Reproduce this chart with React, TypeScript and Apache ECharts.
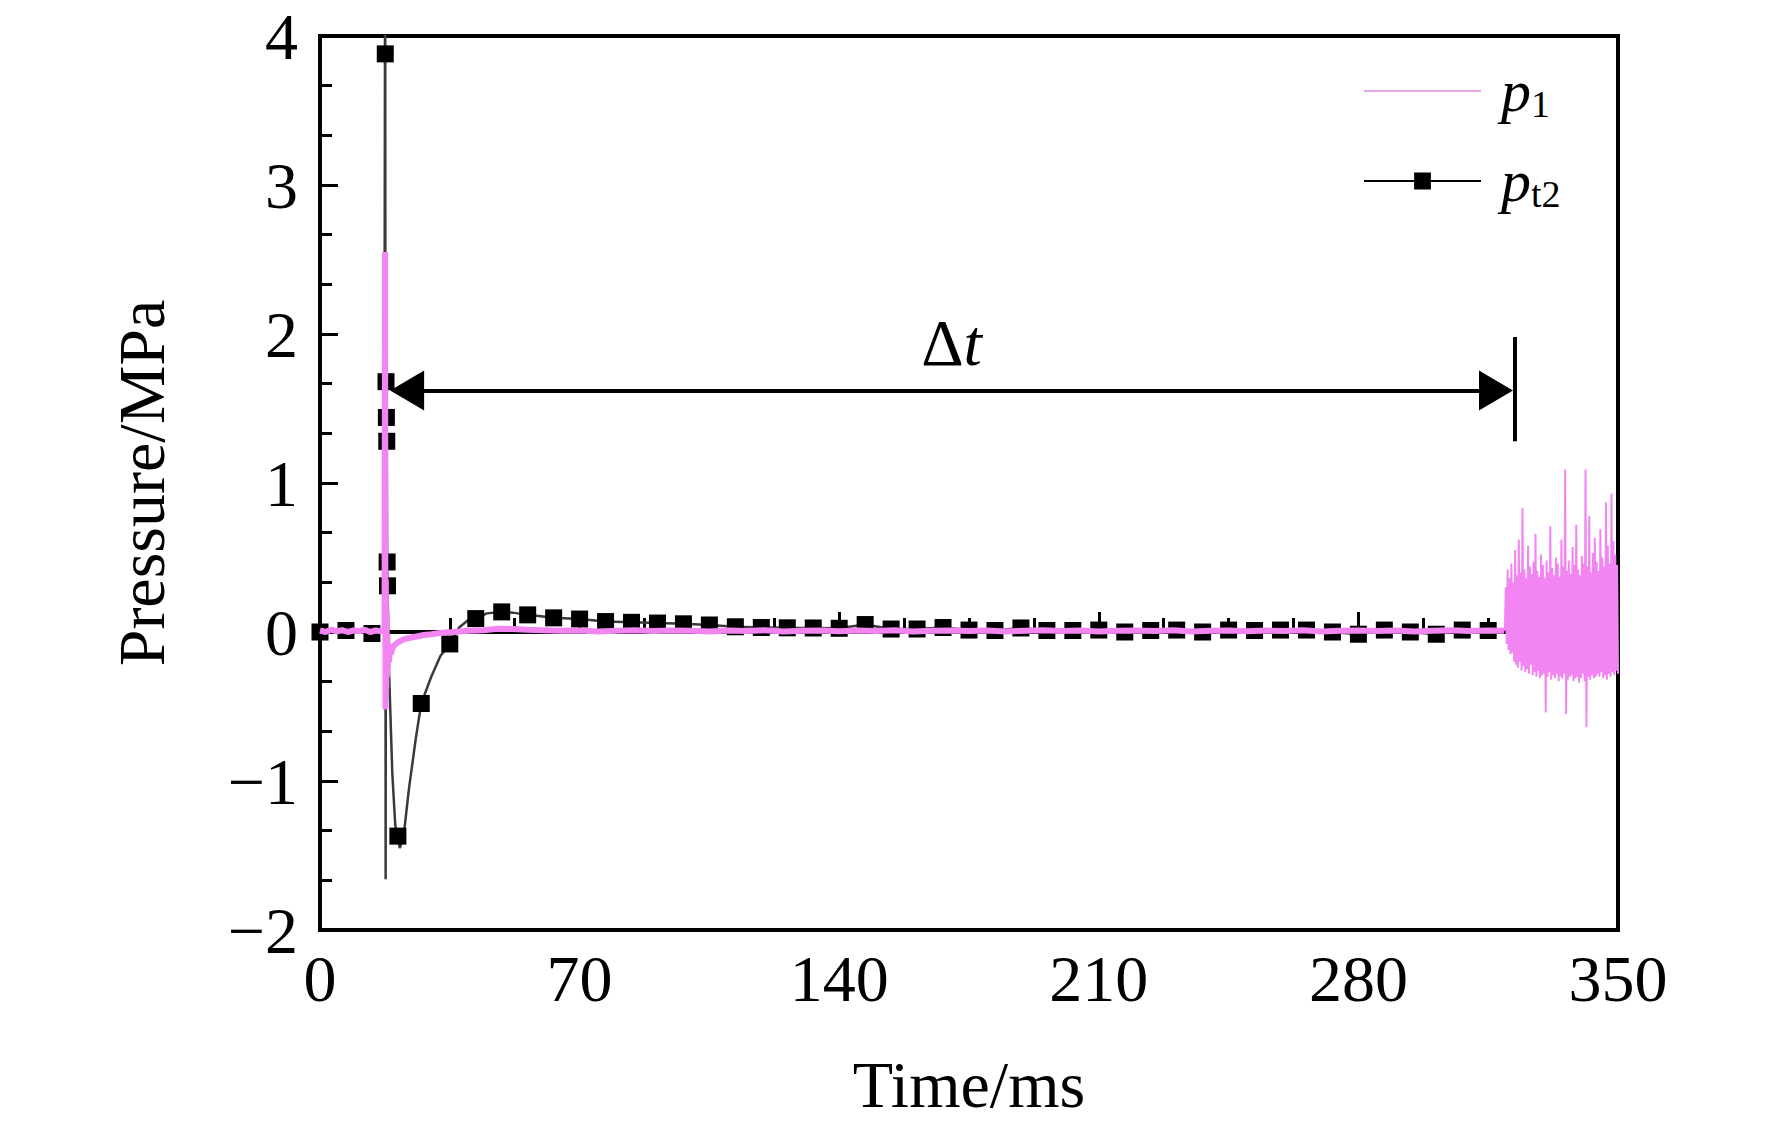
import { useEffect, useRef } from 'react';
import * as echarts from 'echarts';

const FONT = '"Liberation Serif", "Times New Roman", serif';
const PINK = '#f285f2';

// axis ranges
const timeMin = 0;
const timeMax = 350;
const timeStep = 70;
const pressureMin = -2;
const pressureMax = 4;
const pressureStep = 1;

// p_t2: sampled points, 1 = drawn with a square marker
const pt2Time = [
  0, 7, 14, 17.3, 17.55, 17.6, 17.7, 17.8, 17.9, 18.0, 18.1, 18.2, 18.6, 19.5, 20.3, 21.0, 21.5, 22.5, 24.0, 25.8,
  27.3, 30.0, 32.5, 35.0, 37.5, 40.0, 42.0, 45.0, 49.0, 52.0, 56.0, 63, 70, 77, 84, 91, 98, 105, 112, 119,
  126, 133, 140, 147, 154, 161, 168, 175, 182, 189, 196, 203, 210, 217, 224, 231, 238, 245, 252, 259,
  266, 273, 280, 287, 294, 301, 308, 315, 319.5,
];
const pt2Value = [
  0.0, 0.01, -0.01, 0.0, 4.5, 3.88, -1.66, 1.68, 1.44, 1.28, 0.47, 0.31, -0.25, -0.95, -1.3, -1.37, -1.45, -1.38, -1.05, -0.72,
  -0.48, -0.3, -0.16, -0.08, 0.03, 0.08, 0.09, 0.125, 0.135, 0.13, 0.115, 0.095, 0.087, 0.07, 0.065, 0.06, 0.055, 0.047, 0.035, 0.03,
  0.028, 0.027, 0.025, 0.05, 0.02, 0.02, 0.03, 0.013, 0.01, 0.027, 0.01, 0.01, 0.013, 0.0, 0.01, 0.013, 0.0, 0.013, 0.01, 0.013,
  0.013, 0.0, -0.015, 0.013, 0.0, -0.015, 0.013, 0.01, 0.01,
];
const pt2Marked = [
  1, 1, 1, 0, 0, 1, 0, 1, 1, 1, 1, 1, 0, 0, 0, 1, 0, 0, 0, 0,
  1, 0, 0, 1, 0, 0, 1, 0, 1, 0, 1, 1, 1, 1, 1, 1, 1, 1, 1, 1,
  1, 1, 1, 1, 1, 1, 1, 1, 1, 1, 1, 1, 1, 1, 1, 1, 1, 1, 1, 1,
  1, 1, 1, 1, 1, 1, 1, 1, 0,
];

// p_1 before the burst
const p1Time = [
  0, 1.5, 3, 4.5, 6, 7.5, 9, 10.5, 12, 13.5, 15, 16.5, 17.4, 17.55, 17.65, 17.75, 17.85, 17.95, 18.05, 18.15,
  18.3, 18.45, 18.6, 18.8, 19.1, 19.5, 20, 21, 22.5, 24, 26, 28, 30, 33, 36, 40, 44, 48, 52, 56,
  60, 65, 70, 75, 80, 85, 90, 95, 100, 105, 110, 115, 120, 125, 130, 135, 140, 145, 150, 155,
  160, 165, 170, 175, 180, 185, 190, 195, 200, 205, 210, 215, 220, 225, 230, 235, 240, 245, 250, 255,
  260, 265, 270, 275, 280, 285, 290, 295, 300, 305, 310, 315, 319.25,
];
const p1Value = [
  0.01, 0.0, 0.015, 0.005, 0.012, 0.0, 0.01, 0.005, 0.015, 0.0, 0.01, 0.005, 0.02, 2.55, -0.52, 0.35, -0.38, 0.12, -0.3, -0.02,
  -0.24, -0.08, -0.2, -0.13, -0.15, -0.11, -0.09, -0.07, -0.05, -0.04, -0.03, -0.02, -0.015, -0.005, 0.0, 0.008, 0.012, 0.022, 0.02, 0.015,
  0.012, 0.008, 0.01, 0.004, 0.008, 0.012, 0.006, 0.01, 0.008, 0.004, 0.01, 0.006, 0.012, 0.004, 0.008, 0.01, 0.005, 0.01, 0.006, 0.012,
  0.004, 0.008, 0.01, 0.006, 0.01, 0.004, 0.008, 0.012, 0.006, 0.01, 0.004, 0.008, 0.01, 0.006, 0.012, 0.004, 0.008, 0.01, 0.005, 0.01,
  0.006, 0.012, 0.004, 0.008, 0.01, 0.006, 0.01, 0.004, 0.008, 0.012, 0.006, 0.01, 0.008,
];

// p_1 burst, sampled every 0.25 ms from 319.5 ms
const p1NoiseStart = 319.5;
const p1NoiseStep = 0.25;
const p1NoiseValues = [
  0.02,
  0.30, -0.08, 0.42, -0.12, 0.36, -0.15, 0.46, -0.14, 0.33, -0.20,
  0.55, -0.22, 0.38, -0.24, 0.62, -0.20, 0.40, -0.26, 0.83, -0.23,
  0.42, -0.27, 0.36, -0.25, 0.58, -0.28, 0.44, -0.22, 0.39, -0.29,
  0.47, -0.27, 0.66, -0.30, 0.41, -0.26, 0.37, -0.31, 0.52, -0.29,
  0.45, -0.28, 0.36, -0.54, 0.48, -0.30, 0.40, -0.27, 0.71, -0.32,
  0.43, -0.29, 0.38, -0.31, 0.50, -0.28, 0.46, -0.33, 0.37, -0.30,
  0.62, -0.31, 0.44, -0.28, 1.09, -0.55, 0.41, -0.32, 0.48, -0.30,
  0.39, -0.29, 0.57, -0.33, 0.45, -0.31, 0.72, -0.30, 0.42, -0.34,
  0.38, -0.31, 0.51, -0.28, 0.46, -0.33, 1.09, -0.64, 0.44, -0.30,
  0.78, -0.32, 0.40, -0.29, 0.53, -0.31, 0.63, -0.30, 0.47, -0.28,
  0.41, -0.30, 0.69, -0.27, 0.50, -0.31, 0.44, -0.29, 0.87, -0.32,
  0.58, -0.28, 0.46, -0.30, 0.93, -0.27, 0.61, -0.29, 0.52, -0.26,
  0.45, -0.28,
];

// Δt annotation (ms / MPa)
const arrowLevel = 1.62;
const arrowFrom = 23.5;
const arrowTo = 317.1;
const barTime = 322.2;
const barTop = 1.98;
const barBottom = 1.28;

const minus = (v: number) => (v < 0 ? '\u2212' + Math.abs(v) : String(v));

export default function App() {
  const chartRef = useRef<HTMLDivElement>(null);

  useEffect(() => {
    document.body.style.margin = '0';
    if (!chartRef.current) return;
    const chart = echarts.init(chartRef.current, null, { renderer: 'svg' });

    const pt2Data = pt2Time.map((t, i) =>
      pt2Marked[i] ? [t, pt2Value[i]] : { value: [t, pt2Value[i]], symbol: 'none' }
    );
    const p1Data = p1Time.map((t, i) => [t, p1Value[i]]);
    const p1NoiseData = [
      [p1Time[p1Time.length - 1], p1Value[p1Value.length - 1]],
      ...p1NoiseValues.map((v, i) => [p1NoiseStart + i * p1NoiseStep, v]),
    ];

    const axisText = { fontFamily: FONT, fontSize: 66, color: '#000' };

    chart.setOption({
      animation: false,
      grid: { left: 320, right: 154, top: 36, bottom: 196, show: true, borderColor: '#000', borderWidth: 4 },
      legend: {
        orient: 'vertical',
        left: 1358,
        top: 56,
        itemWidth: 117,
        itemHeight: 21,
        itemGap: 28,
        data: [
          { name: 'p1', lineStyle: { color: '#e6a6e6', width: 2 }, itemStyle: { color: 'rgba(0,0,0,0)', opacity: 0 } },
          { name: 'pt2', lineStyle: { color: '#000', width: 2 }, itemStyle: { color: '#000' } },
        ],
        formatter: (name: string) => (name === 'p1' ? '{p|p}{s|1}' : '{p|p}{s|t2}'),
        textStyle: {
          color: '#000',
          padding: [0, 0, 0, 15],
          rich: {
            p: { fontFamily: FONT, fontSize: 60, fontStyle: 'italic', lineHeight: 64, color: '#000' },
            s: { fontFamily: FONT, fontSize: 38, lineHeight: 4, verticalAlign: 'bottom', color: '#000' },
          },
        },
      },
      xAxis: {
        type: 'value',
        min: timeMin,
        max: timeMax,
        interval: timeStep,
        name: 'Time/ms',
        nameLocation: 'middle',
        nameGap: 121,
        nameTextStyle: axisText,
        axisLine: { show: true, lineStyle: { color: '#000', width: 4 } },
        axisTick: { show: true, inside: true, length: 20, lineStyle: { color: '#000', width: 3 } },
        minorTick: { show: true, splitNumber: 4, length: 14, lineStyle: { color: '#000', width: 3 } },
        axisLabel: { ...axisText, margin: 15 },
        splitLine: { show: false },
      },
      yAxis: {
        type: 'value',
        min: pressureMin,
        max: pressureMax,
        interval: pressureStep,
        name: 'Pressure/MPa',
        nameLocation: 'middle',
        nameGap: 146,
        nameTextStyle: axisText,
        axisLine: { show: true, lineStyle: { color: '#000', width: 4 } },
        axisTick: { show: true, inside: true, length: 18, lineStyle: { color: '#000', width: 3 } },
        minorTick: { show: true, splitNumber: 3, length: 12, lineStyle: { color: '#000', width: 3 } },
        axisLabel: { ...axisText, margin: 22, formatter: minus },
        splitLine: { show: false },
      },
      series: [
        {
          name: 'pt2',
          type: 'line',
          data: pt2Data,
          symbol: 'rect',
          symbolSize: 17,
          itemStyle: { color: '#000' },
          lineStyle: { color: '#3a3a3a', width: 2.5 },
          z: 2,
        },
        {
          name: 'p1',
          type: 'line',
          data: p1Data,
          symbol: 'none',
          itemStyle: { color: PINK },
          lineStyle: { color: PINK, width: 6 },
          z: 3,
          markLine: {
            silent: true,
            symbol: ['triangle', 'triangle'],
            symbolSize: [40, 34],
            lineStyle: { color: '#000', width: 4, type: 'solid' },
            label: {
              show: true,
              position: 'middle',
              distance: 15,
              color: '#000',
              formatter: '{d|\u0394}{t|t}',
              rich: {
                d: { fontFamily: FONT, fontSize: 66, color: '#000' },
                t: { fontFamily: FONT, fontSize: 66, fontStyle: 'italic', color: '#000' },
              },
            },
            data: [
              [{ coord: [arrowFrom, arrowLevel] }, { coord: [arrowTo, arrowLevel] }],
              [
                { coord: [barTime, barTop], symbol: 'none', label: { show: false } },
                { coord: [barTime, barBottom], symbol: 'none', label: { show: false } },
              ],
            ],
          },
        },
        {
          name: 'p1',
          type: 'line',
          data: p1NoiseData,
          symbol: 'none',
          itemStyle: { color: PINK },
          lineStyle: { color: PINK, width: 2 },
          z: 3,
        },
      ],
    });

    return () => chart.dispose();
  }, []);

  return <div ref={chartRef} style={{ width: 1772, height: 1126 }} />;
}
